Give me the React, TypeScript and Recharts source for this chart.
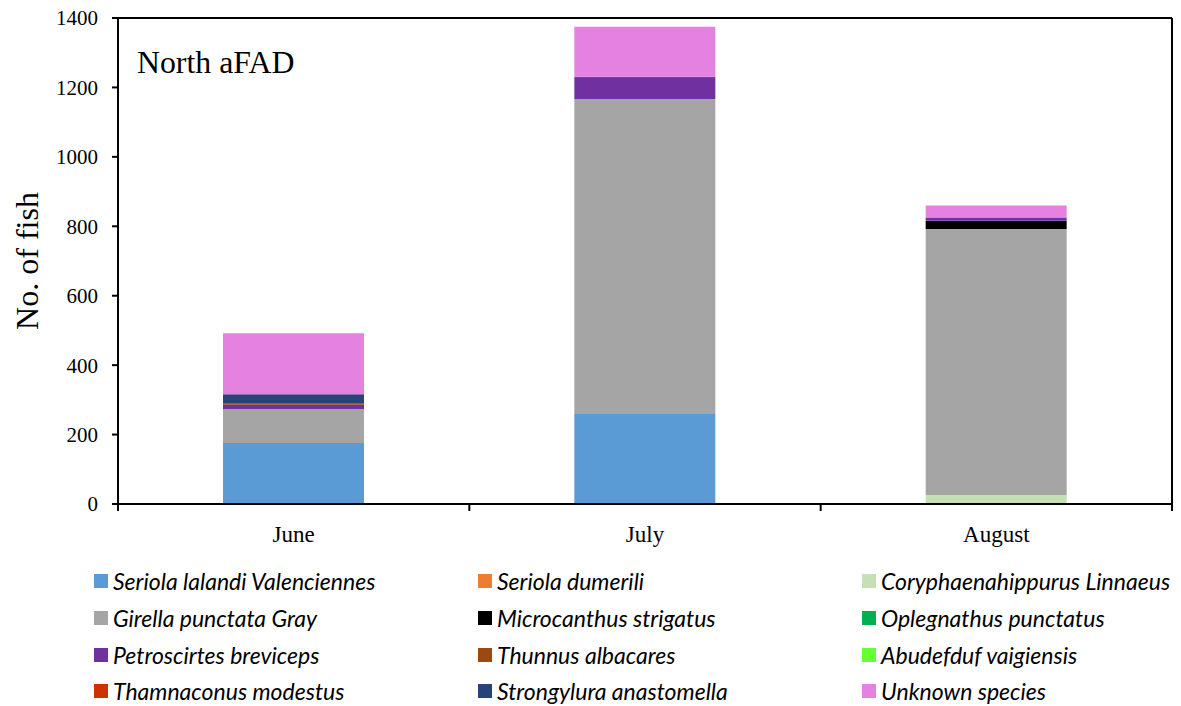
import React from 'react';
import { BarChart, Bar, XAxis, YAxis, ReferenceLine, Legend, Customized } from 'recharts';

const months = ['June', 'July', 'August'];
const seriolaLalandi = [176, 259, 0];
const seriolaDumerili = [0, 0, 0];
const coryphaena = [0, 0, 26];
const girella = [98, 908, 766];
const microcanthus = [0, 0, 23];
const oplegnathus = [0, 0, 1];
const petroscirtes = [12, 60, 9];
const thunnus = [3, 0, 0];
const abudefduf = [0, 0, 0];
const thamnaconus = [0, 3, 0];
const strongylura = [27, 1, 0];
const unknown = [176, 144, 35];
const yTicks = [0, 200, 400, 600, 800, 1000, 1200, 1400];

const series = [
  { key: 'sl', name: 'Seriola lalandi Valenciennes', color: '#5B9BD5', values: seriolaLalandi },
  { key: 'sd', name: 'Seriola dumerili', color: '#ED7D31', values: seriolaDumerili },
  { key: 'co', name: 'Coryphaenahippurus Linnaeus', color: '#C5E0B4', values: coryphaena },
  { key: 'gi', name: 'Girella punctata Gray', color: '#A5A5A5', values: girella },
  { key: 'mi', name: 'Microcanthus strigatus', color: '#000000', values: microcanthus },
  { key: 'op', name: 'Oplegnathus punctatus', color: '#00B050', values: oplegnathus },
  { key: 'pe', name: 'Petroscirtes breviceps', color: '#7030A0', values: petroscirtes },
  { key: 'th', name: 'Thunnus albacares', color: '#9E480E', values: thunnus },
  { key: 'ab', name: 'Abudefduf vaigiensis', color: '#66FF33', values: abudefduf },
  { key: 'tm', name: 'Thamnaconus modestus', color: '#CC3300', values: thamnaconus },
  { key: 'st', name: 'Strongylura anastomella', color: '#264478', values: strongylura },
  { key: 'un', name: 'Unknown species', color: '#E581E0', values: unknown },
];

const data = months.map((m, i) => {
  const row: any = { month: m };
  series.forEach((s) => { row[s.key] = s.values[i]; });
  return row;
});

const serif = '"Liberation Serif", "Times New Roman", serif';

const XTick = (props: any) => {
  const { x, y, payload, index } = props;
  const half = 351.33 / 2;
  const ay = y - 8;
  return (
    <g>
      <line x1={x - half} x2={x - half} y1={ay} y2={ay + 7} stroke="#000" strokeWidth={2} />
      {index === months.length - 1 && (
        <line x1={x + half} x2={x + half} y1={ay} y2={ay + 7} stroke="#000" strokeWidth={2} />
      )}
      <text x={x} y={y + 30} textAnchor="middle" fontFamily={serif} fontSize={23} fill="#000">
        {payload.value}
      </text>
    </g>
  );
};

const LegendContent = () => {
  const colX = [86, 470, 854];
  const rowCenters = [27, 64, 101, 137];
  return (
    <div style={{ position: 'relative', width: 1173, height: 152 }}>
      {series.map((s, i) => {
        const col = i % 3;
        const row = Math.floor(i / 3);
        return (
          <div
            key={s.key}
            style={{
              position: 'absolute',
              left: colX[col],
              top: rowCenters[row] - 14,
              display: 'flex',
              alignItems: 'center',
              height: 28,
              whiteSpace: 'nowrap',
            }}
          >
            <span style={{ display: 'inline-block', width: 14, height: 14, background: s.color, marginRight: 5 }} />
            <span style={{ fontFamily: 'Lato, "Open Sans", sans-serif', fontStyle: 'italic', fontSize: 23, lineHeight: '28px', color: '#000' }}>
              {s.name}
            </span>
          </div>
        );
      })}
    </div>
  );
};

export default function App() {
  return (
    <div style={{ width: 1165, height: 706, marginTop: -8 }}>
      <BarChart
        width={1165}
        height={706}
        data={data}
        margin={{ top: 18, right: 0, left: 0, bottom: 0 }}
        barSize={141}
      >
        <XAxis
          dataKey="month"
          tickLine={false}
          axisLine={{ stroke: '#000', strokeWidth: 2 }}
          tick={<XTick />}
          height={50}
          interval={0}
        />
        <YAxis
          yAxisId="left"
          domain={[0, 1400]}
          ticks={yTicks}
          width={110}
          axisLine={{ stroke: '#000', strokeWidth: 2 }}
          tickLine={{ stroke: '#000', strokeWidth: 2 }}
          tickSize={6}
          tickMargin={14}
          tick={{ fontFamily: serif, fontSize: 21, fill: '#000' }}
          interval={0}
        />
        <YAxis
          yAxisId="right"
          orientation="right"
          domain={[0, 1400]}
          width={1}
          tick={false}
          tickLine={false}
          axisLine={{ stroke: '#000', strokeWidth: 2 }}
        />
        <ReferenceLine yAxisId="left" y={1400} stroke="#000" strokeWidth={2} ifOverflow="visible" />
        {series.map((s) => (
          <Bar
            key={s.key}
            yAxisId="left"
            dataKey={s.key}
            name={s.name}
            stackId="a"
            fill={s.color}
            isAnimationActive={false}
          />
        ))}
        <Legend verticalAlign="bottom" content={<LegendContent />} />
        <Customized
          component={() => (
            <g>
              <text x={129} y={73} fontFamily={serif} fontSize={31.8} fill="#000">North aFAD</text>
              <text
                x={19}
                y={261}
                transform="rotate(-90 19 261)"
                textAnchor="middle"
                dominantBaseline="central"
                fontFamily={serif}
                fontSize={32}
                fill="#000"
              >
                No. of fish
              </text>
            </g>
          )}
        />
      </BarChart>
    </div>
  );
}
